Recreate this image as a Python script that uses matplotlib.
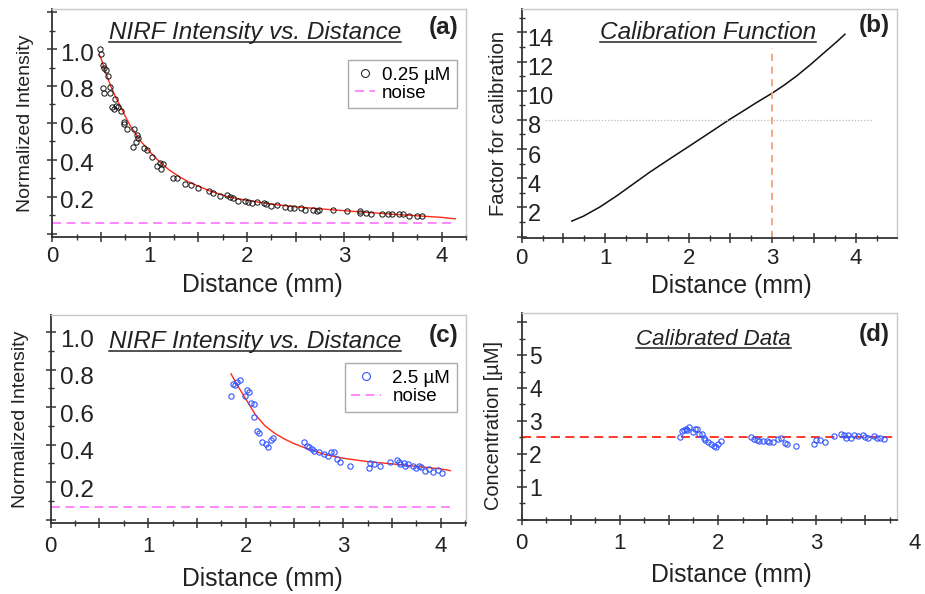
import numpy as np
import matplotlib
matplotlib.use('Agg')
import matplotlib.pyplot as plt
from matplotlib.ticker import MultipleLocator, FuncFormatter
from matplotlib.lines import Line2D
from matplotlib.transforms import ScaledTranslation

plt.rcParams['font.family'] = ['Liberation Sans', 'DejaVu Sans']

# ---------------- data ----------------
# (a) 0.25 uM intensity vs distance
a_x = [0.49, 0.50, 0.525, 0.53, 0.55, 0.525, 0.535, 0.57, 0.59, 0.59, 0.645, 0.65, 0.61, 0.63,
       0.67, 0.705, 0.74, 0.74, 0.765, 0.83, 0.84, 0.87, 0.885, 0.857, 0.946, 0.97, 1.02, 1.08,
       1.107, 1.14, 1.12, 1.24, 1.28, 1.36, 1.43, 1.50, 1.61, 1.65, 1.72, 1.79, 1.83, 1.86, 1.91,
       1.98, 2.01, 2.05, 2.10, 2.17, 2.20, 2.25, 2.31, 2.39, 2.44, 2.48, 2.55, 2.60, 2.68, 2.72,
       2.74, 2.88, 3.03, 3.16, 3.16, 3.22, 3.27, 3.39, 3.45, 3.49, 3.56, 3.60, 3.66, 3.75, 3.80]
a_y = [0.998, 0.973, 0.913, 0.90, 0.886, 0.79, 0.76, 0.854, 0.796, 0.76, 0.727, 0.69, 0.687, 0.673,
       0.687, 0.666, 0.606, 0.594, 0.565, 0.467, 0.565, 0.534, 0.516, 0.498, 0.462, 0.453, 0.413, 0.366,
       0.384, 0.377, 0.348, 0.303, 0.303, 0.269, 0.263, 0.245, 0.231, 0.222, 0.205, 0.209, 0.197, 0.191, 0.177,
       0.177, 0.173, 0.168, 0.17, 0.164, 0.16, 0.151, 0.155, 0.142, 0.137, 0.137, 0.137, 0.128, 0.128, 0.122,
       0.128, 0.128, 0.122, 0.113, 0.122, 0.113, 0.106, 0.106, 0.106, 0.106, 0.106, 0.106, 0.097, 0.097, 0.097]
a_fit_x = [0.48, 0.5, 0.55, 0.6, 0.65, 0.7, 0.75, 0.8, 0.9, 1.0, 1.1, 1.2, 1.3, 1.4, 1.6, 1.8, 2.0,
           2.25, 2.5, 3.0, 3.5, 4.0, 4.14]
a_fit_y = [0.97, 0.95, 0.87, 0.80, 0.74, 0.69, 0.635, 0.585, 0.507, 0.444, 0.39, 0.345, 0.31, 0.28,
           0.235, 0.20, 0.18, 0.16, 0.145, 0.124, 0.105, 0.088, 0.08]
a_noise = 0.06

# (b) calibration function
b_x = [0.60, 0.74, 0.94, 1.14, 1.34, 1.54, 1.74, 1.94, 2.14, 2.34, 2.49, 2.65, 2.81, 2.99,
       3.13, 3.29, 3.45, 3.61, 3.77, 3.87]
b_y = [1.06, 1.40, 2.04, 2.80, 3.62, 4.44, 5.20, 5.95, 6.70, 7.46, 8.03, 8.60, 9.18, 9.80,
       10.33, 11.00, 11.75, 12.55, 13.34, 13.87]
b_ref_x = 3.0
b_ref_x_top = 12.9
b_ref_y = 8.0
b_ref_y_span = [0.28, 4.2]

# (c) 2.5 uM intensity vs distance
c_x = [1.846, 1.87, 1.89, 1.91, 1.94, 1.99, 2.01, 2.03, 2.05, 2.09, 2.09, 2.12, 2.14, 2.17, 2.21,
       2.23, 2.26, 2.28, 2.60, 2.63, 2.65, 2.68, 2.70, 2.75, 2.80, 2.84, 2.88, 2.91, 2.94, 2.97,
       3.07, 3.26, 3.28, 3.32, 3.38, 3.48, 3.55, 3.57, 3.58, 3.62, 3.63, 3.67, 3.72, 3.75, 3.78,
       3.80, 3.84, 3.88, 3.92, 3.97, 4.01]
c_y = [0.662, 0.723, 0.719, 0.737, 0.746, 0.662, 0.692, 0.683, 0.625, 0.616, 0.547, 0.475, 0.461, 0.417,
       0.403, 0.39, 0.426, 0.438, 0.417, 0.394, 0.387, 0.376, 0.369, 0.363, 0.351, 0.340, 0.363, 0.363,
       0.323, 0.31, 0.287, 0.278, 0.301, 0.296, 0.287, 0.31, 0.319, 0.307, 0.296, 0.301, 0.287, 0.296,
       0.287, 0.278, 0.289, 0.283, 0.262, 0.271, 0.257, 0.266, 0.248]
c_fit_x = [1.85, 1.9, 2.0, 2.1, 2.2, 2.3, 2.4, 2.5, 2.6, 2.8, 3.0, 3.25, 3.5, 3.75, 4.0, 4.1]
c_fit_y = [0.778, 0.73, 0.645, 0.56, 0.50, 0.46, 0.43, 0.405, 0.385, 0.35, 0.328, 0.31, 0.298, 0.285,
           0.271, 0.262]
c_noise = 0.067

# (d) calibrated data
d_x = [1.61, 1.63, 1.65, 1.67, 1.68, 1.70, 1.75, 1.77, 1.79, 1.81, 1.84, 1.86, 1.87, 1.90, 1.93,
       1.96, 1.98, 2.00, 2.03, 2.34, 2.37, 2.40, 2.42, 2.46, 2.50, 2.52, 2.56, 2.61, 2.64, 2.68,
       2.70, 2.79, 2.98, 3.00, 3.04, 3.09, 3.18, 3.25, 3.28, 3.30, 3.32, 3.35, 3.39, 3.43, 3.48,
       3.50, 3.53, 3.59, 3.62, 3.65, 3.69]
d_y = [2.51, 2.69, 2.72, 2.75, 2.72, 2.81, 2.65, 2.75, 2.75, 2.59, 2.59, 2.49, 2.41, 2.35, 2.29,
       2.24, 2.20, 2.30, 2.39, 2.51, 2.45, 2.41, 2.39, 2.39, 2.39, 2.35, 2.35, 2.45, 2.47, 2.33,
       2.29, 2.23, 2.29, 2.41, 2.41, 2.37, 2.53, 2.60, 2.57, 2.49, 2.57, 2.49, 2.57, 2.55, 2.57,
       2.51, 2.47, 2.53, 2.49, 2.49, 2.46]
d_ref = 2.5
d_extra_tick = 4

dark = '#222222'
red = '#ff2a1a'
blue = '#3355ff'
pink = '#ff7dff'

fig = plt.figure(figsize=(9.25, 5.94), dpi=100)
W, H = 925.0, 594.0

def mkax(l, r, t, b):
    return fig.add_axes([l / W, 1 - b / H, (r - l) / W, (b - t) / H])

axa = mkax(52.3, 466, 9, 237.3)
axb = mkax(521.7, 896.7, 9, 238.3)
axc = mkax(50.7, 466, 315, 523.3)
axd = mkax(521.7, 896.7, 313.3, 520)

def int_fmt(v, pos):
    if abs(v - round(v)) < 1e-6:
        return '%d' % round(v)
    return ''

def style(ax, xlim, ylim, ymaj, ymin, yfmt, yfs, ypad, xpad, xlab_xy, ylab_xy, ylabel, ylfs):
    ax.set_xlim(*xlim)
    ax.set_ylim(*ylim)
    for s in ['left', 'bottom']:
        ax.spines[s].set_color('#333333')
        ax.spines[s].set_linewidth(1.3)
    for s in ['top', 'right']:
        ax.spines[s].set_color('#c8c8c8')
        ax.spines[s].set_linewidth(1.0)
    ax.xaxis.set_major_locator(MultipleLocator(0.5))
    ax.xaxis.set_minor_locator(MultipleLocator(0.25))
    ax.xaxis.set_major_formatter(FuncFormatter(int_fmt))
    ax.yaxis.set_major_locator(MultipleLocator(ymaj))
    ax.yaxis.set_minor_locator(MultipleLocator(ymin))
    ax.yaxis.set_major_formatter(FuncFormatter(yfmt))
    ax.tick_params(which='major', direction='inout', length=7, width=1.1, color='#333333')
    ax.tick_params(which='minor', direction='inout', length=4.5, width=1.0, color='#333333')
    ax.tick_params(axis='x', which='major', labelsize=16, pad=xpad, labelcolor=dark)
    ax.tick_params(axis='y', which='major', labelsize=yfs, pad=ypad, labelcolor=dark)
    for lab in ax.get_yticklabels():
        lab.set_ha('left')
    ax.set_xlabel('Distance (mm)', fontsize=17.8, color=dark)
    ax.xaxis.label.set_va('center')
    ax.xaxis.set_label_coords(*xlab_xy)
    ax.set_ylabel(ylabel, fontsize=ylfs, color=dark)
    ax.yaxis.label.set_va('center')
    ax.yaxis.set_label_coords(*ylab_xy)

fmt1 = lambda v, p: ('%.1f' % v) if 0.05 < v < 1.05 and abs(v / 0.2 - round(v / 0.2)) < 1e-6 else ''
fmt2 = lambda v, p: ('%d' % round(v)) if 0.5 < v < 14.5 and abs(v / 2 - round(v / 2)) < 1e-6 else ''
fmt3 = lambda v, p: ('%d' % round(v)) if 0.5 < v < 5.5 and abs(v - round(v)) < 1e-6 else ''

style(axa, (0, 4.25), (-0.02, 1.217), 0.2, 0.1, fmt1, 17.5, -9.0, 3.0,
      (0.508, -0.21), (-0.065, 0.5), 'Normalized Intensity', 14)
style(axb, (0, 4.49), (-0.12, 15.6), 2, 1, fmt2, 17, -7.8, 3.5,
      (0.558, -0.208), (-0.063, 0.5), 'Factor for calibration', 14.6)
style(axc, (0, 4.26), (-0.019, 1.092), 0.2, 0.1, fmt1, 17.5, -10.5, 6.0,
      (0.51, -0.267), (-0.072, 0.5), 'Normalized Intensity', 14)
style(axd, (0, 3.82), (-0.01, 6.27), 1, 0.5, fmt3, 16.5, -9.0, 6.0,
      (0.558, -0.266), (-0.076, 0.457), 'Concentration [µM]', 14.4)

# (a)
axa.plot(a_fit_x, a_fit_y, color=red, lw=1.0, zorder=3)
la, = axa.plot(a_x, a_y, 'o', mfc='none', mec='#111111', ms=3.8, mew=0.7, zorder=4)
ln_a, = axa.plot([0, 4.13], [a_noise, a_noise], color=pink, lw=1.3, dashes=(5, 3))
axa.legend([la, ln_a], ['0.25 µM', 'noise'], loc='upper right', bbox_to_anchor=(0.9775, 0.776),
           borderaxespad=0, fontsize=13.5, markerscale=1.5, handlelength=1.1, handletextpad=0.35,
           labelspacing=0.05, borderpad=0.35, fancybox=False, edgecolor='#aaaaaa', framealpha=1)

# (b)
axb.plot(b_x, b_y, color='#111111', lw=1.1)
axb.plot(b_ref_y_span, [b_ref_y, b_ref_y], color='#bbbbbb', lw=0.9, ls=(0, (1, 1.5)))
axb.plot([b_ref_x, b_ref_x], [-0.12, b_ref_x_top], color='#f5a080', lw=1.3, dashes=(4, 3))

# (c)
axc.plot(c_fit_x, c_fit_y, color=red, lw=1.0, zorder=3)
lc, = axc.plot(c_x, c_y, 'o', mfc='none', mec=blue, ms=3.8, mew=0.8, zorder=4)
ln_c, = axc.plot([0, 4.13], [c_noise, c_noise], color=pink, lw=1.3, dashes=(5, 3))
axc.legend([lc, ln_c], ['2.5 µM', 'noise'], loc='upper right', bbox_to_anchor=(0.9776, 0.768),
           borderaxespad=0, fontsize=13.5, markerscale=1.5, handlelength=1.6, handletextpad=0.6,
           labelspacing=0.05, borderpad=0.35, fancybox=False, edgecolor='#aaaaaa', framealpha=1)

# (d)
axd.plot([0, 3.82], [d_ref, d_ref], color=red, lw=1.3, dashes=(5, 3), zorder=2)
axd.plot(d_x, d_y, 'o', mfc='none', mec=blue, ms=3.8, mew=0.8, zorder=4)
axd.text(d_extra_tick, -0.063, str(d_extra_tick), transform=axd.get_xaxis_transform(),
         ha='center', va='top', fontsize=16, color=dark, clip_on=False)

# titles and panel tags
titles = []
def utitle(ax, text, xf, yf, fs):
    t = ax.text(xf, yf, text, transform=ax.transAxes, ha='center', va='baseline',
                fontsize=fs, style='italic', color=dark)
    titles.append((ax, t, yf))

utitle(axa, 'NIRF Intensity vs. Distance', 0.49, 0.868, 17.5)
utitle(axb, 'Calibration Function', 0.496, 0.869, 17.6)
utitle(axc, 'NIRF Intensity vs. Distance', 0.492, 0.84, 17.5)
utitle(axd, 'Calibrated Data', 0.512, 0.847, 16)

for ax, tag, xf, yf in [(axa, '(a)', 0.946, 0.919), (axb, '(b)', 0.9395, 0.927),
                        (axc, '(c)', 0.946, 0.90), (axd, '(d)', 0.9395, 0.899)]:
    ax.text(xf, yf, tag, transform=ax.transAxes, ha='center', va='center',
            fontsize=17.5, fontweight='bold', color=dark)

# y tick labels sit slightly below their ticks in the reference
for ax, dy in [(axa, 3), (axb, 5), (axc, 6), (axd, 0)]:
    off = ScaledTranslation(0, -dy / 100.0, fig.dpi_scale_trans)
    for t in ax.yaxis.get_major_ticks():
        t.label1.set_transform(t.label1.get_transform() + off)

fig.canvas.draw()
for ax, t, yf in titles:
    bb = t.get_window_extent()
    yb = ax.transAxes.transform((0, yf))[1] - 3.0
    fig.add_artist(Line2D([bb.x0 / fig.bbox.width, bb.x1 / fig.bbox.width],
                          [yb / fig.bbox.height, yb / fig.bbox.height],
                          transform=fig.transFigure, color=dark, lw=1.1))

fig.savefig('out.png', dpi=100, facecolor='white')
